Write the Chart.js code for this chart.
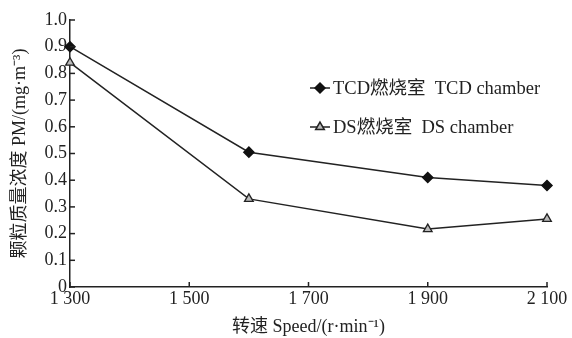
<!DOCTYPE html>
<html><head><meta charset="utf-8">
<script src="https://cdn.jsdelivr.net/npm/chart.js@4/dist/chart.umd.min.js"></script>
<style>html,body{margin:0;padding:0;background:#fff}#wrap{width:572px;height:338px}</style>
</head><body><div id="wrap"><canvas id="c" width="572" height="338"></canvas></div>
<script>
const speeds = [1300, 1600, 1900, 2100];
const tcdValues = [0.90, 0.505, 0.41, 0.38];
const dsValues = [0.84, 0.33, 0.217, 0.255];
const seriesNames = ['TCD燃烧室  TCD chamber', 'DS燃烧室  DS chamber'];
const xTicks = [1300, 1500, 1700, 1900, 2100];
const yTicks = [0, 0.1, 0.2, 0.3, 0.4, 0.5, 0.6, 0.7, 0.8, 0.9, 1.0];
const xTitle = '转速 Speed/(r·min⁻¹)';
const yTitle = '颗粒质量浓度 PM/(mg·m⁻³)';

const FONT = '"Liberation Serif", "Times New Roman", "Noto Sans CJK SC", serif';
const INK = '#222';

const innerTicks = {
  id: 'innerTicks',
  afterDatasetsDraw(chart) {
    const ctx = chart.ctx, x = chart.scales.x, y = chart.scales.y;
    ctx.save();
    ctx.strokeStyle = INK; ctx.lineWidth = 1.5;
    xTicks.forEach(v => { const px = x.getPixelForValue(v); ctx.beginPath(); ctx.moveTo(px, y.bottom); ctx.lineTo(px, y.bottom - 5); ctx.stroke(); });
    yTicks.forEach(v => { const py = y.getPixelForValue(v); ctx.beginPath(); ctx.moveTo(x.left, py); ctx.lineTo(x.left + 5, py); ctx.stroke(); });
    // legend
    const items = [{ y: 88, ds: chart.data.datasets[0] }, { y: 127, ds: chart.data.datasets[1] }];
    items.forEach((it, i) => {
      ctx.strokeStyle = INK; ctx.lineWidth = 1.5;
      ctx.beginPath(); ctx.moveTo(310, it.y); ctx.lineTo(330, it.y); ctx.stroke();
      ctx.fillStyle = it.ds.pointBackgroundColor; ctx.strokeStyle = it.ds.pointBorderColor;
      Chart.helpers.drawPoint(ctx, { pointStyle: it.ds.pointStyle, radius: it.ds.pointRadius, borderWidth: 1.3 }, 320, it.y);
      ctx.fillStyle = INK;
      ctx.font = '18.5px ' + FONT;
      ctx.textBaseline = 'middle'; ctx.textAlign = 'left';
      ctx.fillText(seriesNames[i], 333, it.y + 1);
    });
    ctx.restore();
  }
};

new Chart(document.getElementById('c'), {
  type: 'line',
  data: {
    datasets: [
      { label: seriesNames[0], data: speeds.map((s, i) => ({ x: s, y: tcdValues[i] })),
        borderColor: INK, borderWidth: 1.5, pointStyle: 'rectRot', pointRadius: 5,
        pointBackgroundColor: '#111', pointBorderColor: '#111', tension: 0, clip: false },
      { label: seriesNames[1], data: speeds.map((s, i) => ({ x: s, y: dsValues[i] })),
        borderColor: INK, borderWidth: 1.5, pointStyle: 'triangle', pointRadius: 5,
        pointBackgroundColor: '#bbb', pointBorderColor: '#222', pointBorderWidth: 1.3, tension: 0, clip: false }
    ]
  },
  options: {
    responsive: false, animation: false, devicePixelRatio: 1,
    layout: { padding: { top: 20, right: 25, left: 0, bottom: 0 } },
    plugins: { legend: { display: false }, tooltip: { enabled: false } },
    scales: {
      x: {
        type: 'linear', min: 1300, max: 2100,
        afterBuildTicks: s => { s.ticks = xTicks.map(v => ({ value: v })); },
        afterFit: s => { s.height = 51; },
        grid: { display: false, drawTicks: false },
        border: { display: true, color: INK, width: 1.5 },
        ticks: { color: INK, font: { family: FONT, size: 18 }, padding: 1, maxRotation: 0,
          callback: v => { const s = String(v); return s.slice(0, 1) + ' ' + s.slice(1); } },
        title: { display: true, text: xTitle, color: INK, font: { family: FONT, size: 18 }, padding: { top: 0, bottom: 0 } }
      },
      y: {
        min: 0, max: 1.0,
        afterBuildTicks: s => { s.ticks = yTicks.map(v => ({ value: v })); },
        afterFit: s => { s.width = 70; },
        grid: { display: false, drawTicks: false },
        border: { display: true, color: INK, width: 1.5 },
        ticks: { color: INK, font: { family: FONT, size: 18 }, padding: 3,
          callback: v => v === 0 ? '0' : v.toFixed(1) },
        title: { display: true, text: yTitle, color: INK, font: { family: FONT, size: 18 }, padding: { top: 9, bottom: 0 } }
      }
    }
  },
  plugins: [innerTicks]
});
</script></body></html>
